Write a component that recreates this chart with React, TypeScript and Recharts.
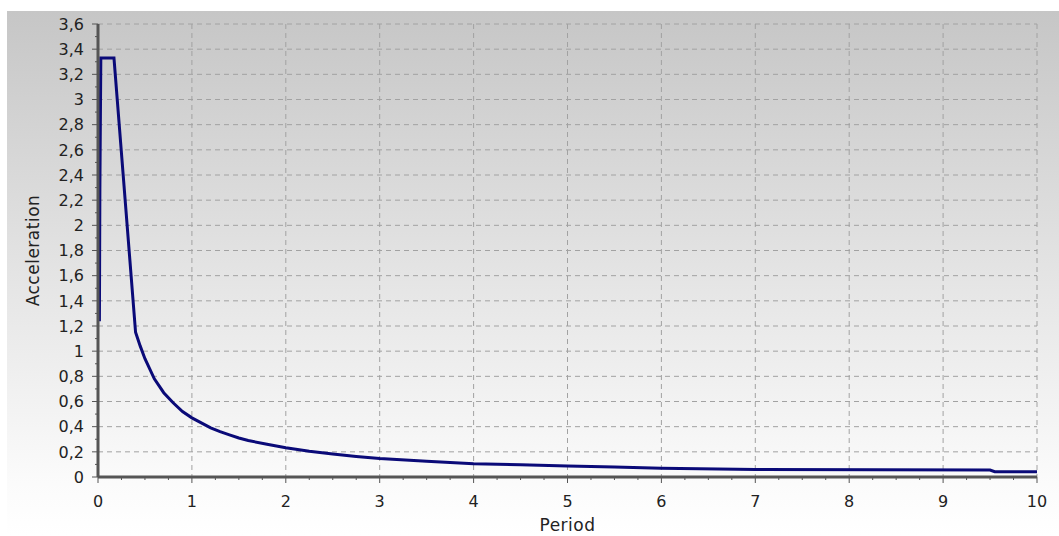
import React from "react";
import { LineChart, Line, XAxis, YAxis, CartesianGrid, Label } from "recharts";

// spectrum (period in s, acceleration)
const period = [
  0, 0.015, 0.02, 0.03, 0.17, 0.4, 0.45, 0.5, 0.6, 0.7, 0.8, 0.9, 1.0, 1.1,
  1.2, 1.3, 1.4, 1.5, 1.6, 1.8, 2.0, 2.25, 2.5, 2.75, 3.0, 3.5, 4.0, 4.5, 5.0,
  5.5, 6.0, 7.0, 9.5, 9.55, 10.0,
];
const acceleration = [
  1.25, 1.25, 2.28, 3.33, 3.33, 1.15, 1.04, 0.94, 0.78, 0.67, 0.59, 0.52, 0.47,
  0.43, 0.39, 0.36, 0.335, 0.31, 0.29, 0.26, 0.233, 0.205, 0.182, 0.163, 0.147,
  0.125, 0.105, 0.097, 0.088, 0.08, 0.07, 0.06, 0.055, 0.042, 0.042,
];

const xTicks = [0, 1, 2, 3, 4, 5, 6, 7, 8, 9, 10];
const xMinorTicks = [
  0, 0.25, 0.5, 0.75, 1, 1.25, 1.5, 1.75, 2, 2.25, 2.5, 2.75, 3, 3.25, 3.5,
  3.75, 4, 4.25, 4.5, 4.75, 5, 5.25, 5.5, 5.75, 6, 6.25, 6.5, 6.75, 7, 7.25,
  7.5, 7.75, 8, 8.25, 8.5, 8.75, 9, 9.25, 9.5, 9.75, 10,
];
const yTicks = [
  0, 0.2, 0.4, 0.6, 0.8, 1, 1.2, 1.4, 1.6, 1.8, 2, 2.2, 2.4, 2.6, 2.8, 3, 3.2,
  3.4, 3.6,
];
const yMinorTicks = [
  0, 0.1, 0.2, 0.3, 0.4, 0.5, 0.6, 0.7, 0.8, 0.9, 1, 1.1, 1.2, 1.3, 1.4, 1.5,
  1.6, 1.7, 1.8, 1.9, 2, 2.1, 2.2, 2.3, 2.4, 2.5, 2.6, 2.7, 2.8, 2.9, 3, 3.1,
  3.2, 3.3, 3.4, 3.5, 3.6,
];

const data = period.map((p, i) => ({ period: p, acceleration: acceleration[i] }));

const FONT = "'DejaVu Sans', Verdana, sans-serif";
const AXIS = "#555555";
const TEXT = "#222222";

const isMajor = (v: number, step: number) =>
  Math.abs(v / step - Math.round(v / step)) < 1e-6;

const fmt = (v: number) => String(v).replace(".", ",");

const XTick = (props: any) => {
  const { x, y, payload } = props;
  const major = isMajor(payload.value, 1);
  return (
    <g>
      <line x1={x} x2={x} y1={y} y2={y + (major ? 6 : 3)} stroke={AXIS} strokeWidth={1} />
      {major && (
        <text x={x} y={y + 19} dy="0.71em" textAnchor="middle" fill={TEXT}
          fontFamily={FONT} fontSize={16}>
          {fmt(payload.value)}
        </text>
      )}
    </g>
  );
};

const YTick = (props: any) => {
  const { x, y, payload } = props;
  const major = isMajor(payload.value, 0.2);
  return (
    <g>
      <line x1={x} x2={x - (major ? 6 : 3)} y1={y} y2={y} stroke={AXIS} strokeWidth={1} />
      {major && (
        <text x={x - 14} y={y} dy="0.36em" textAnchor="end" fill={TEXT}
          fontFamily={FONT} fontSize={16}>
          {fmt(payload.value)}
        </text>
      )}
    </g>
  );
};

export default function App() {
  return (
    <div style={{ position: "absolute", left: 0, top: 0, width: 1059, height: 536, background: "#ffffff" }}>
      <div
        style={{
          position: "absolute", left: 7, top: 11, right: 0, bottom: 0,
          background: "linear-gradient(to bottom, #c6c6c6 0%, #e4e4e4 50%, #fbfbfb 90%, #ffffff 100%)",
        }}
      />
      <div style={{ position: "absolute", left: 0, top: 0 }}>
        <LineChart
          width={1059}
          height={536}
          data={data}
          margin={{ top: 24, right: 22, bottom: 0, left: 0 }}
          style={{ fontFamily: FONT }}
        >
          <XAxis xAxisId="grid" type="number" dataKey="period" domain={[0, 10]} ticks={xTicks} allowDataOverflow hide />
          <YAxis yAxisId="grid" type="number" dataKey="acceleration" domain={[0, 3.6]} ticks={yTicks} allowDataOverflow hide />
          <CartesianGrid
            xAxisId="grid"
            yAxisId="grid"
            stroke="#a2a2a2"
            strokeDasharray="5 4"
          />
          <XAxis
            type="number"
            dataKey="period"
            domain={[0, 10]}
            ticks={xMinorTicks}
            interval={0}
            height={59}
            tickSize={0}
            tickMargin={0}
            tickLine={false}
            tick={<XTick />}
            axisLine={{ stroke: AXIS, strokeWidth: 3 }}
          >
            <Label
              value="Period"
              position="insideBottom"
              offset={5}
              style={{ fill: TEXT, fontSize: 17, fontFamily: FONT, letterSpacing: 0.5 }}
            />
          </XAxis>
          <YAxis
            type="number"
            dataKey="acceleration"
            domain={[0, 3.6]}
            ticks={yMinorTicks}
            interval={0}
            width={98}
            tickSize={0}
            tickMargin={0}
            tickLine={false}
            tick={<YTick />}
            axisLine={{ stroke: AXIS, strokeWidth: 3 }}
          >
            <Label
              value="Acceleration"
              angle={-90}
              position="insideLeft"
              offset={33}
              style={{ fill: TEXT, fontSize: 17, fontFamily: FONT, textAnchor: "middle", letterSpacing: 0.5 }}
            />
          </YAxis>
          <Line
            type="linear"
            dataKey="acceleration"
            stroke="#0a0a78"
            strokeWidth={3}
            dot={false}
            isAnimationActive={false}
          />
        </LineChart>
      </div>
    </div>
  );
}
